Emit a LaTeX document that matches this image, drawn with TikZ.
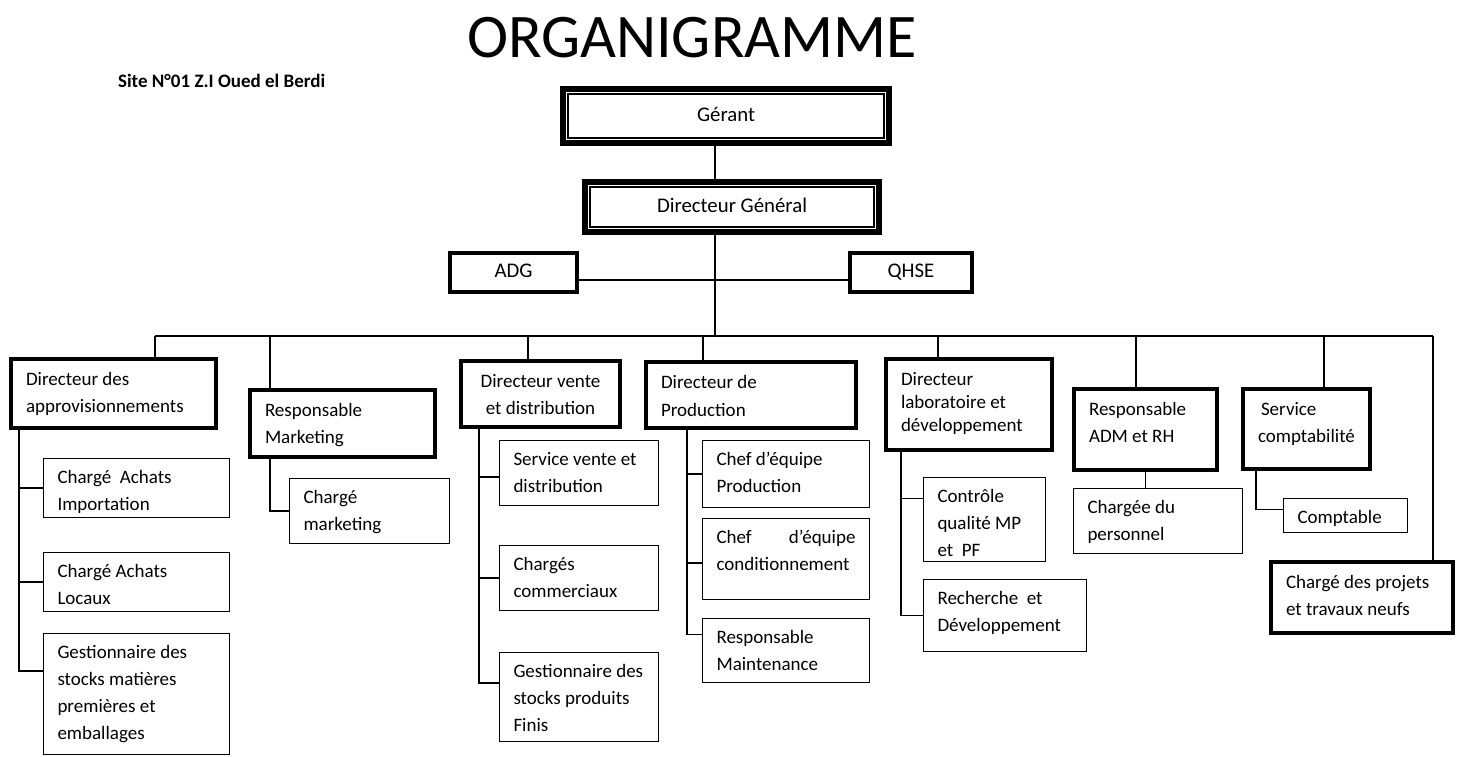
\documentclass[tikz,border=0pt]{standalone}
\usepackage{fontspec}
\setmainfont{Carlito}
\usepackage{tikz}
\hyphenpenalty=10000
\exhyphenpenalty=10000
\tikzstyle{wire} = [line width=0.6pt]
\tikzset{
  chief/.style 2 args={draw=black, line width=3pt, anchor=north west, inner sep=0pt,
    minimum width=#1*0.5pt-3pt, minimum height=#2*0.5pt-3pt,
    text height=7pt, text depth=2pt, font=\fontsize{10.4}{12.5}\selectfont},
  staff/.style 2 args={chief={#1}{#2}, line width=2pt,
    minimum width=#1*0.5pt-2pt, minimum height=#2*0.5pt-2pt},
  headbox/.style 2 args={draw=black, line width=2pt, anchor=north west, align=flush left,
    inner xsep=7.5pt, inner ysep=0pt, text height=13pt,
    text width=#1*0.5pt-17pt, text depth=#2*0.5pt-15pt,
    font=\fontsize{9.5}{13.5}\selectfont},
  postbox/.style 2 args={draw=black, line width=0.5pt, anchor=north west, align=flush left,
    inner xsep=7pt, inner ysep=0pt, text height=12.5pt,
    text width=#1*0.5pt-14.5pt, text depth=#2*0.5pt-13pt,
    font=\fontsize{9.5}{13.5}\selectfont}
}

\begin{document}
\begin{tikzpicture}[x=0.5pt, y=-0.5pt]
\useasboundingbox (0,0) rectangle (1461,756);

% title
\node (title) [anchor=base, font=\fontsize{31}{37}\selectfont] at (692,57) {ORGANIGRAMME};
\node (site) [anchor=base west, font=\fontsize{9.5}{11}\selectfont\bfseries] at (111,87) {Site N°01 Z.I Oued el Berdi};

% direction
\node (gerant) [chief={332}{60}] at (560,86) {Gérant};
\node (dg) [chief={300}{56}] at (582,179) {Directeur Général};
\node (adg) [staff={131}{43}] at (448,251) {ADG};
\node (qhse) [staff={126}{43}] at (848,251) {QHSE};
\foreach \n in {gerant, dg}
  \draw [line width=0.6pt] ([shift={(4pt,-4pt)}]\n.north west) rectangle ([shift={(-4pt,4pt)}]\n.south east);

% directions
\node (appro) [headbox={209}{73}] at (9,357) {Directeur des\\approvisionnements};
\node (mkt) [headbox={189}{71}] at (248,388) {Responsable\\Marketing};
\node (vente) [headbox={163}{70}, align=flush center] at (459,359) {Directeur vente\\et distribution};
\node (prod) [headbox={214}{70}, font=\fontsize{9.5}{14}\selectfont] at (644,360) {Directeur de\\Production};
\node (labo) [headbox={170}{95}, font=\fontsize{9.5}{11.6}\selectfont] at (884,357) {Directeur\\laboratoire et\\développement};
\node (adm) [headbox={147}{85}] at (1072,387) {Responsable\\ADM et RH};
\node (compta) [headbox={131}{84}] at (1241,387) {\hspace{1.5pt}Service\\comptabilité};
\node (projets) [headbox={186}{75}] at (1269,560) {Chargé des projets\\et travaux neufs};

% services
\node (achimp) [postbox={187}{60}] at (43,458) {Chargé\ \ Achats\\Importation};
\node (achloc) [postbox={187}{60}] at (43,552) {Chargé Achats\\Locaux};
\node (gestmp) [postbox={187}{122}] at (43,633) {Gestionnaire des\\stocks matières\\premières et\\emballages};
\node (chmkt) [postbox={161}{66}] at (289,478) {Chargé\\marketing};
\node (svente) [postbox={160}{66}] at (499,440) {Service~vente~et\\distribution};
\node (chcom) [postbox={160}{66}] at (499,545) {Chargés\\commerciaux};
\node (gestpf) [postbox={160}{90}] at (499,652) {Gestionnaire~des\\stocks~produits\\Finis};
\node (chprod) [postbox={168}{68}] at (702,440) {Chef d’équipe\\Production};
\node (chcond) [postbox={168}{82}] at (702,518) {Chef\hfill d’équipe\\conditionnement};
\node (maint) [postbox={168}{65}] at (702,618) {Responsable\\Maintenance};
\node (qual) [postbox={123}{85}] at (923,477) {Contrôle\\qualité MP\\et\ \ PF};
\node (rd) [postbox={164}{73}] at (923,579) {Recherche\ \ et\\Développement};
\node (pers) [postbox={170}{66}] at (1073,488) {Chargée du\\personnel};
\node (comptable) [postbox={125}{35}] at (1283,498) {Comptable};

% links
\coordinate (bus) at (715,336);
\coordinate (hub) at (715,280);
\draw [wire] (gerant.south -| bus) -- (dg.north -| bus);
\draw [wire] (dg.south -| bus) -- (bus);
\draw [wire] (adg.east |- hub) -- (qhse.west |- hub);
\foreach \x/\n in {155/appro, 270/mkt, 528/vente, 703/prod, 938/labo, 1136/adm, 1324/compta, 1433/projets} {
  \coordinate (b\n) at (\x,336);
  \draw [wire] (b\n) -- (b\n |- \n.north);
}
\draw [wire] (bappro) -- (bprojets);

\draw [wire] ([xshift=5pt]appro.south west) |- (achimp.west);
\draw [wire] ([xshift=5pt]appro.south west) |- (achloc.west);
\draw [wire] ([xshift=5pt]appro.south west) |- ([yshift=11.5pt]gestmp.west);
\draw [wire] (mkt.south -| bmkt) |- (chmkt.west);
\draw [wire] ([xshift=10pt]vente.south west) |- ([yshift=-2pt]svente.west);
\draw [wire] ([xshift=10pt]vente.south west) |- (chcom.west);
\draw [wire] ([xshift=10pt]vente.south west) |- ([yshift=7pt]gestpf.west);
\draw [wire] ([xshift=21.5pt]prod.south west) |- (chprod.west);
\draw [wire] ([xshift=21.5pt]prod.south west) |- ([yshift=-2pt]chcond.west);
\draw [wire] ([xshift=21.5pt]prod.south west) |- ([yshift=8pt]maint.west);
\draw [wire] ([xshift=8.5pt]labo.south west) |- ([yshift=10.5pt]qual.west);
\draw [wire] ([xshift=8.5pt]labo.south west) |- (rd.west);
\draw [wire] (adm.south) -- (adm.south |- pers.north);
\draw [wire] ([xshift=7.5pt]compta.south west) |- ([yshift=3pt]comptable.west);

\end{tikzpicture}
\end{document}
